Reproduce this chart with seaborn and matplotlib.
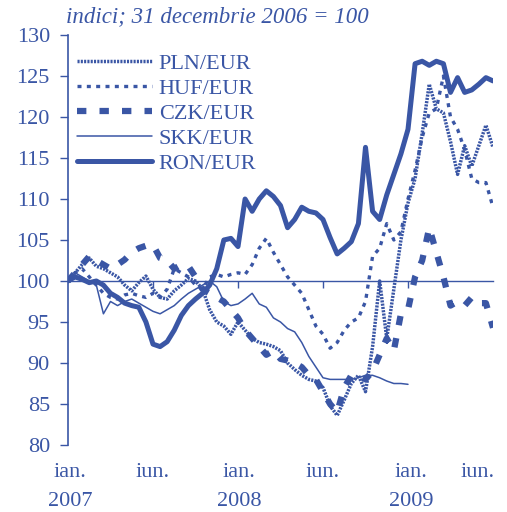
import numpy as np
import pandas as pd
import matplotlib
matplotlib.use("Agg")
import matplotlib.pyplot as plt
import matplotlib.transforms as mtransforms
import seaborn as sns

# Time axis: months since 31 Dec 2006, sampled every half month up to end of June 2009
months = np.arange(0, 30.5, 0.5)

# Exchange-rate indices (31 Dec 2006 = 100)
pln = [100.0, 101.0, 102.0, 102.8, 101.8, 101.5, 101.0, 100.5, 99.5, 98.8,
       99.8, 100.6, 99.0, 98.0, 97.8, 98.8, 99.5, 100.3, 100.0, 99.0,
       96.5, 95.0, 94.5, 93.5, 95.0, 94.0, 93.0, 92.5, 92.3, 92.0,
       91.5, 90.0, 89.2, 88.5, 88.0, 87.8, 87.0, 84.8, 83.6, 85.5,
       87.5, 88.5, 86.5, 92.0, 100.0, 93.0, 99.0, 105.0, 109.5, 112.5,
       118.0, 124.0, 121.0, 120.5, 117.0, 113.0, 116.5, 114.0, 116.5, 119.0,
       116.3]
huf = [100.0, 101.0, 101.5, 100.5, 99.5, 98.5, 98.0, 97.8, 98.3, 98.5,
       98.2, 98.0, 98.5, 98.0, 99.0, 101.5, 101.0, 100.5, 99.5, 99.0,
       100.5, 100.8, 100.5, 100.8, 101.0, 100.8, 102.0, 104.0, 105.2, 103.5,
       102.0, 100.5, 99.5, 98.5, 96.5, 94.5, 93.5, 91.8, 92.5, 94.0,
       95.0, 95.5, 97.5, 103.0, 104.0, 107.0, 105.0, 106.0, 110.0, 113.5,
       117.5, 120.5, 121.0, 125.0, 120.0, 118.5, 116.0, 112.5, 112.0, 112.0,
       109.0]
czk = [100.0, 101.0, 102.0, 103.0, 102.5, 102.0, 101.5, 102.0, 102.6, 103.5,
       104.0, 104.3, 104.4, 102.8, 102.5, 101.5, 102.0, 101.8, 100.5, 99.0,
       98.5, 98.0, 97.5, 96.5, 95.5, 94.0, 93.0, 92.0, 91.0, 91.5,
       90.5, 90.3, 90.0, 89.5, 88.5, 88.0, 86.5, 85.0, 84.0, 87.0,
       88.5, 88.5, 88.0, 89.0, 91.0, 93.0, 91.5, 96.0, 96.5, 100.5,
       102.5, 106.5, 103.5, 100.5, 97.0, 97.5, 97.0, 98.0, 97.3, 97.3,
       94.3]
# SKK joined the euro at the start of 2009: series stops there
skk = [100.0, 101.0, 100.5, 100.0, 99.5, 96.0, 97.5, 97.0, 97.5, 97.8,
       97.3, 96.8, 96.3, 96.0, 96.5, 97.0, 97.8, 98.5, 99.0, 99.5,
       100.0, 99.3, 97.5, 97.0, 97.2, 97.8, 98.5, 97.2, 96.8, 95.5,
       95.0, 94.2, 93.8, 92.5, 90.8, 89.5, 88.2, 88.0, 88.0, 88.0,
       88.0, 88.2, 88.5, 88.5, 88.2, 87.8, 87.5, 87.5, 87.4] + [np.nan] * 12
ron = [100.0, 100.5, 100.2, 99.8, 100.0, 99.5, 98.5, 98.0, 97.3, 97.0,
       96.8, 95.0, 92.3, 92.0, 92.6, 94.0, 95.8, 97.0, 97.8, 98.5,
       99.5, 101.5, 105.0, 105.2, 104.2, 110.0, 108.5, 110.0, 111.0, 110.3,
       109.2, 106.5, 107.5, 109.0, 108.5, 108.3, 107.5, 105.3, 103.3, 104.0,
       104.8, 107.0, 116.3, 108.5, 107.5, 110.5, 113.0, 115.5, 118.5, 126.5,
       126.8, 126.3, 126.8, 126.5, 123.0, 124.8, 123.0, 123.3, 124.0, 124.8,
       124.4]

series_names = ["PLN/EUR", "HUF/EUR", "CZK/EUR", "SKK/EUR", "RON/EUR"]
series_values = [pln, huf, czk, skk, ron]

tick_label_pos = [0.15, 6.0, 12.1, 18.0, 24.2, 28.9]
tick_label_txt = ["ian.", "iun.", "ian.", "iun.", "ian.", "iun."]
year_label_pos = [0.15, 12.1, 24.2]
year_label_txt = ["2007", "2008", "2009"]

BLUE = "#3A56A5"
styles = {
    "PLN/EUR": dict(lw=2.5, linestyle=(0, (0.6, 0.35))),
    "HUF/EUR": dict(lw=2.4, linestyle=(0, (1.2, 1.6))),
    "CZK/EUR": dict(lw=4.5, linestyle=(0, (1.5, 2.1))),
    "SKK/EUR": dict(lw=1.1, linestyle="-"),
    "RON/EUR": dict(lw=3.6, linestyle="-"),
}

sns.set_style("white")
plt.rcParams["font.family"] = ["Liberation Serif", "DejaVu Serif"]

frames = [pd.DataFrame({"month": months, "index": vals, "series": name})
          for name, vals in zip(series_names, series_values)]
df = pd.concat(frames, ignore_index=True)

fig = plt.figure(figsize=(5.07, 5.12), dpi=100)
W, H = 507, 512
ax = fig.add_axes([68 / W, (H - 445) / H, (493 - 68) / W, 410 / H])

for name in series_names:
    sub = df[df["series"] == name].dropna()
    sns.lineplot(data=sub, x="month", y="index", ax=ax, color=BLUE,
                 label=name, estimator=None, **styles[name])

ax.set_xlim(0, 30)
ax.set_ylim(80, 130)
ax.set_xlabel("")
ax.set_ylabel("")

# y axis
ax.set_yticks(np.arange(80, 131, 5))
ax.tick_params(axis="y", direction="out", length=6, width=1.0, color=BLUE,
               labelsize=16, labelcolor=BLUE, pad=7, left=True)
for s in ["top", "right"]:
    ax.spines[s].set_visible(False)
ax.spines["left"].set_color(BLUE)
ax.spines["left"].set_linewidth(1.2)

# horizontal axis crosses at 100
ax.spines["bottom"].set_position(("data", 100))
ax.spines["bottom"].set_color(BLUE)
ax.spines["bottom"].set_linewidth(1.0)
ax.set_xticks([6, 12, 18, 24])
ax.tick_params(axis="x", direction="out", length=5, width=1.0, color=BLUE,
               labelbottom=False, bottom=True)

trans = mtransforms.blended_transform_factory(ax.transData, ax.transAxes)
for xp, t in zip(tick_label_pos, tick_label_txt):
    ax.text(xp, -0.068, t, transform=trans, ha="center", va="center",
            fontsize=16, color=BLUE)
for xp, t in zip(year_label_pos, year_label_txt):
    ax.text(xp, -0.137, t, transform=trans, ha="center", va="center",
            fontsize=16, color=BLUE)

leg = ax.legend(loc="upper left", bbox_to_anchor=(0.02, 0.955), frameon=False,
                fontsize=16, handlelength=3.4, handletextpad=0.3,
                labelspacing=0.2, borderaxespad=0, borderpad=0)
for t in leg.get_texts():
    t.set_color(BLUE)

fig.text(66 / W, 1 - 17 / H, "indici; 31 decembrie 2006 = 100", ha="left",
         va="center", fontsize=16.5, style="italic", color=BLUE)

fig.savefig("out.png", dpi=100)
